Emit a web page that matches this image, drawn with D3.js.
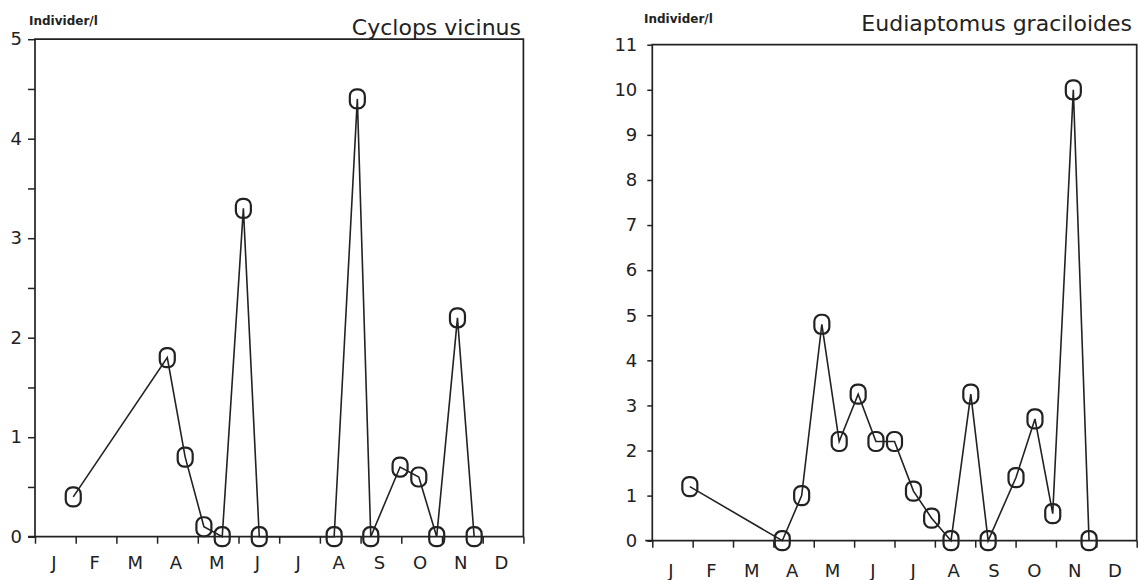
<!DOCTYPE html>
<html>
<head>
<meta charset="utf-8">
<script src="https://cdnjs.cloudflare.com/ajax/libs/d3/7.8.5/d3.min.js"></script>
<style>
body { margin: 0; background: #fff; }
svg text { font-family: "DejaVu Sans", sans-serif; fill: #222; }
</style>
</head>
<body>
<div id="showChart"></div>
<script>
// month labels along the x axis
var months = ["J","F","M","A","M","J","J","A","S","O","N","D"];

// Cyclops vicinus (left chart), time in months from 1 Jan
var cyclopsTime  = [0.94, 3.25, 3.69, 4.15, 4.6, 5.12, 5.51, 7.35, 7.92, 8.25, 8.97, 9.43, 9.87, 10.38, 10.79];
var cyclopsValue = [0.4, 1.8, 0.8, 0.1, 0, 3.3, 0, 0, 4.4, 0, 0.7, 0.6, 0, 2.2, 0];
var cyclopsTicks = [0, 1, 2, 3, 4, 5];
var cyclopsMinor = [0.5, 1.5, 2.5, 3.5, 4.5];

// Eudiaptomus graciloides (right chart)
var eudiaTime  = [0.93, 3.22, 3.7, 4.2, 4.63, 5.1, 5.54, 6.0, 6.47, 6.92, 7.4, 7.89, 8.32, 9.01, 9.48, 9.92, 10.43, 10.82];
var eudiaValue = [1.2, 0, 1.0, 4.8, 2.2, 3.25, 2.2, 2.2, 1.1, 0.5, 0, 3.25, 0, 1.4, 2.7, 0.6, 10, 0];
var eudiaTicks = [0, 1, 2, 3, 4, 5, 6, 7, 8, 9, 10, 11];

var svg = d3.select("#showChart")
    .append("svg")
    .attr("width", 1139)
    .attr("height", 580);

// function to draw one panel
function drawPanel(p)
{
    var x = d3.scaleLinear().domain([0, 12]).range([p.left, p.right]);
    var y = d3.scaleLinear().domain([0, p.max]).range([p.bottom, p.top]);

    var g = svg.append("g");

    // frame (axis line, top, right side, base line)
    g.append("path")
        .attr("d", "M" + x(0) + "," + y(0) + "V" + y(p.max) + "H" + x(12) + "V" + y(0) + "H" + (x(0) - 7))
        .attr("fill", "none")
        .attr("stroke", "#222")
        .attr("stroke-width", 1.7);

    // y axis with labels
    var yAxis = g.append("g")
        .attr("transform", "translate(" + x(0) + ",0)")
        .call(d3.axisLeft(y).tickValues(p.ticks).tickSize(p.tickLen).tickPadding(p.pad).tickSizeOuter(0).tickFormat(d3.format("d")));
    yAxis.select(".domain").remove();
    yAxis.selectAll("line").attr("stroke", "#222").attr("stroke-width", 1.5);
    yAxis.selectAll("text").style("font-size", "18px").attr("fill", "#222");

    // minor ticks
    if (p.minor) {
        var mAxis = g.append("g")
            .attr("transform", "translate(" + x(0) + ",0)")
            .call(d3.axisLeft(y).tickValues(p.minor).tickSize(p.tickLen).tickFormat(""));
        mAxis.select(".domain").remove();
        mAxis.selectAll("line").attr("stroke", "#222").attr("stroke-width", 1.5);
    }

    // month boundary ticks
    var xAxis = g.append("g")
        .attr("transform", "translate(0," + y(0) + ")")
        .call(d3.axisBottom(x).tickValues(d3.range(13)).tickSize(7).tickFormat(""));
    xAxis.select(".domain").remove();
    xAxis.selectAll("line").attr("stroke", "#222").attr("stroke-width", 1.5);

    // month labels in the middle of each month
    var lAxis = g.append("g")
        .attr("transform", "translate(-2," + y(0) + ")")
        .call(d3.axisBottom(x).tickValues(d3.range(12).map(function(d) { return d + 0.5; }))
            .tickSize(0).tickPadding(p.monthPad).tickFormat(function(d, i) { return months[i]; }));
    lAxis.select(".domain").remove();
    lAxis.selectAll("text").style("font-size", "18px").attr("fill", "#222");

    // data line
    var pts = p.time.map(function(t, i) { return [t, p.value[i]]; });
    var line = d3.line()
        .x(function(d) { return x(d[0]); })
        .y(function(d) { return y(d[1]); });

    g.append("path")
        .datum(pts)
        .attr("d", line)
        .attr("fill", "none")
        .attr("stroke", "#222")
        .attr("stroke-width", 1.6);

    // O markers
    g.selectAll(".mark")
        .data(pts)
        .enter()
        .append("rect")
        .attr("class", "mark")
        .attr("x", function(d) { return x(d[0]) - 7.5; })
        .attr("y", function(d) { return y(d[1]) - 9.5; })
        .attr("width", 15)
        .attr("height", 19)
        .attr("rx", 6.5)
        .attr("fill", "none")
        .attr("stroke", "#222")
        .attr("stroke-width", 2.2);

    // unit label and title
    g.append("text")
        .attr("x", p.unitX)
        .attr("y", p.unitY)
        .style("font-size", "12px")
        .style("font-weight", "bold")
        .text("Individer/l");

    g.append("text")
        .attr("x", p.titleX)
        .attr("y", p.titleY)
        .attr("text-anchor", "end")
        .style("font-size", "22px")
        .text(p.title);
}

drawPanel({
    title: "Cyclops vicinus",
    time: cyclopsTime, value: cyclopsValue,
    ticks: cyclopsTicks, minor: cyclopsMinor, max: 5,
    left: 35, right: 523.4, top: 39.2, bottom: 536.7,
    tickLen: 7, pad: 6, monthPad: 20,
    unitX: 29, unitY: 25, titleX: 521, titleY: 35
});

drawPanel({
    title: "Eudiaptomus graciloides",
    time: eudiaTime, value: eudiaValue,
    ticks: eudiaTicks, minor: null, max: 11,
    left: 652.3, right: 1136.7, top: 44.7, bottom: 540.7,
    tickLen: 5, pad: 10, monthPad: 24,
    unitX: 644, unitY: 23, titleX: 1132, titleY: 31
});
</script>
</body>
</html>
